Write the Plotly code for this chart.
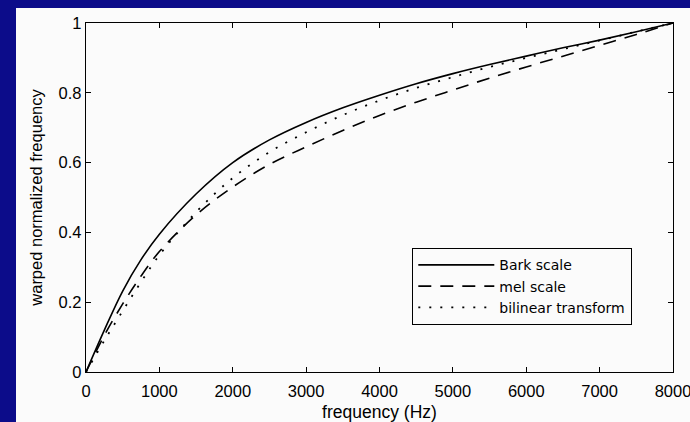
import plotly.graph_objects as go

freq_hz = [0, 250, 500, 750, 1000, 1500, 2000, 2500, 3000, 3500, 4000,
           4500, 5000, 5500, 6000, 6500, 7000, 7500, 8000]
bark_scale = [0.0, 0.12, 0.232, 0.322, 0.395, 0.51, 0.60, 0.665, 0.715, 0.757, 0.793,
              0.826, 0.855, 0.881, 0.905, 0.929, 0.951, 0.975, 1.0]
mel_scale = [0.0, 0.105, 0.195, 0.275, 0.345, 0.45, 0.53, 0.595, 0.645, 0.692, 0.735,
             0.773, 0.808, 0.842, 0.874, 0.905, 0.936, 0.967, 1.0]
bilinear = [0.0, 0.09, 0.175, 0.258, 0.335, 0.458, 0.556, 0.63, 0.687, 0.736, 0.778,
            0.814, 0.845, 0.874, 0.9, 0.925, 0.95, 0.975, 1.0]

x_ticks = [0, 1000, 2000, 3000, 4000, 5000, 6000, 7000, 8000]
y_ticks = [0, 0.2, 0.4, 0.6, 0.8, 1]
y_tick_text = ["0", "0.2", "0.4", "0.6", "0.8", "1"]

FONT = "Liberation Sans, Arial, sans-serif"

fig = go.Figure()
fig.add_trace(go.Scatter(x=freq_hz, y=bark_scale, mode="lines", name="Bark scale",
                         line=dict(color="black", width=1.6, shape="spline")))
fig.add_trace(go.Scatter(x=freq_hz, y=mel_scale, mode="lines", name="mel scale",
                         line=dict(color="black", width=1.6, shape="spline", dash="13px,9px")))
fig.add_trace(go.Scatter(x=freq_hz, y=bilinear, mode="lines", name="bilinear transform",
                         line=dict(color="black", width=1.8, shape="spline", dash="2px,9px")))

L, R, T, B = 86, 17, 23, 50
W, H = 690, 422
pw, ph = W - L - R, H - T - B

def px2paper_x(px):
    return (px - L) / pw

def px2paper_y(py):
    return (H - B - py) / ph

fig.add_shape(type="rect", xref="paper", yref="paper",
              x0=px2paper_x(16), x1=px2paper_x(692),
              y0=px2paper_y(424), y1=px2paper_y(8),
              fillcolor="#fbfbfb", line=dict(width=0), layer="below")

axis_common = dict(showline=True, linecolor="black", linewidth=1.3, mirror="ticks",
                   ticks="inside", ticklen=5, tickcolor="black", tickwidth=1.2,
                   showgrid=False, zeroline=False, automargin=False,
                   ticklabeloverflow="allow",
                   tickfont=dict(family=FONT, size=16.5, color="black"))

fig.update_xaxes(range=[0, 8000], tickvals=x_ticks, ticktext=[str(v) for v in x_ticks],
                 ticklabelstandoff=4,
                 title=dict(text="frequency (Hz)", font=dict(family=FONT, size=17.5, color="black"),
                            standoff=13),
                 **axis_common)
fig.update_yaxes(range=[0, 1], tickvals=y_ticks, ticktext=y_tick_text,
                 title=dict(text="warped normalized frequency",
                            font=dict(family=FONT, size=16.5, color="black"), standoff=11),
                 **axis_common)

fig.update_layout(
    width=W, height=H,
    margin=dict(l=L, r=R, t=T, b=B),
    paper_bgcolor="#0c0c8a",
    plot_bgcolor="#fbfbfb",
    showlegend=True,
    legend=dict(x=px2paper_x(412), y=px2paper_y(248), xanchor="left", yanchor="top",
                bgcolor="#fbfbfb", bordercolor="black", borderwidth=1.3,
                font=dict(family="DejaVu Sans, sans-serif", size=14, color="black"),
                itemwidth=76, tracegroupgap=0),
)

fig.write_html("out.html")
